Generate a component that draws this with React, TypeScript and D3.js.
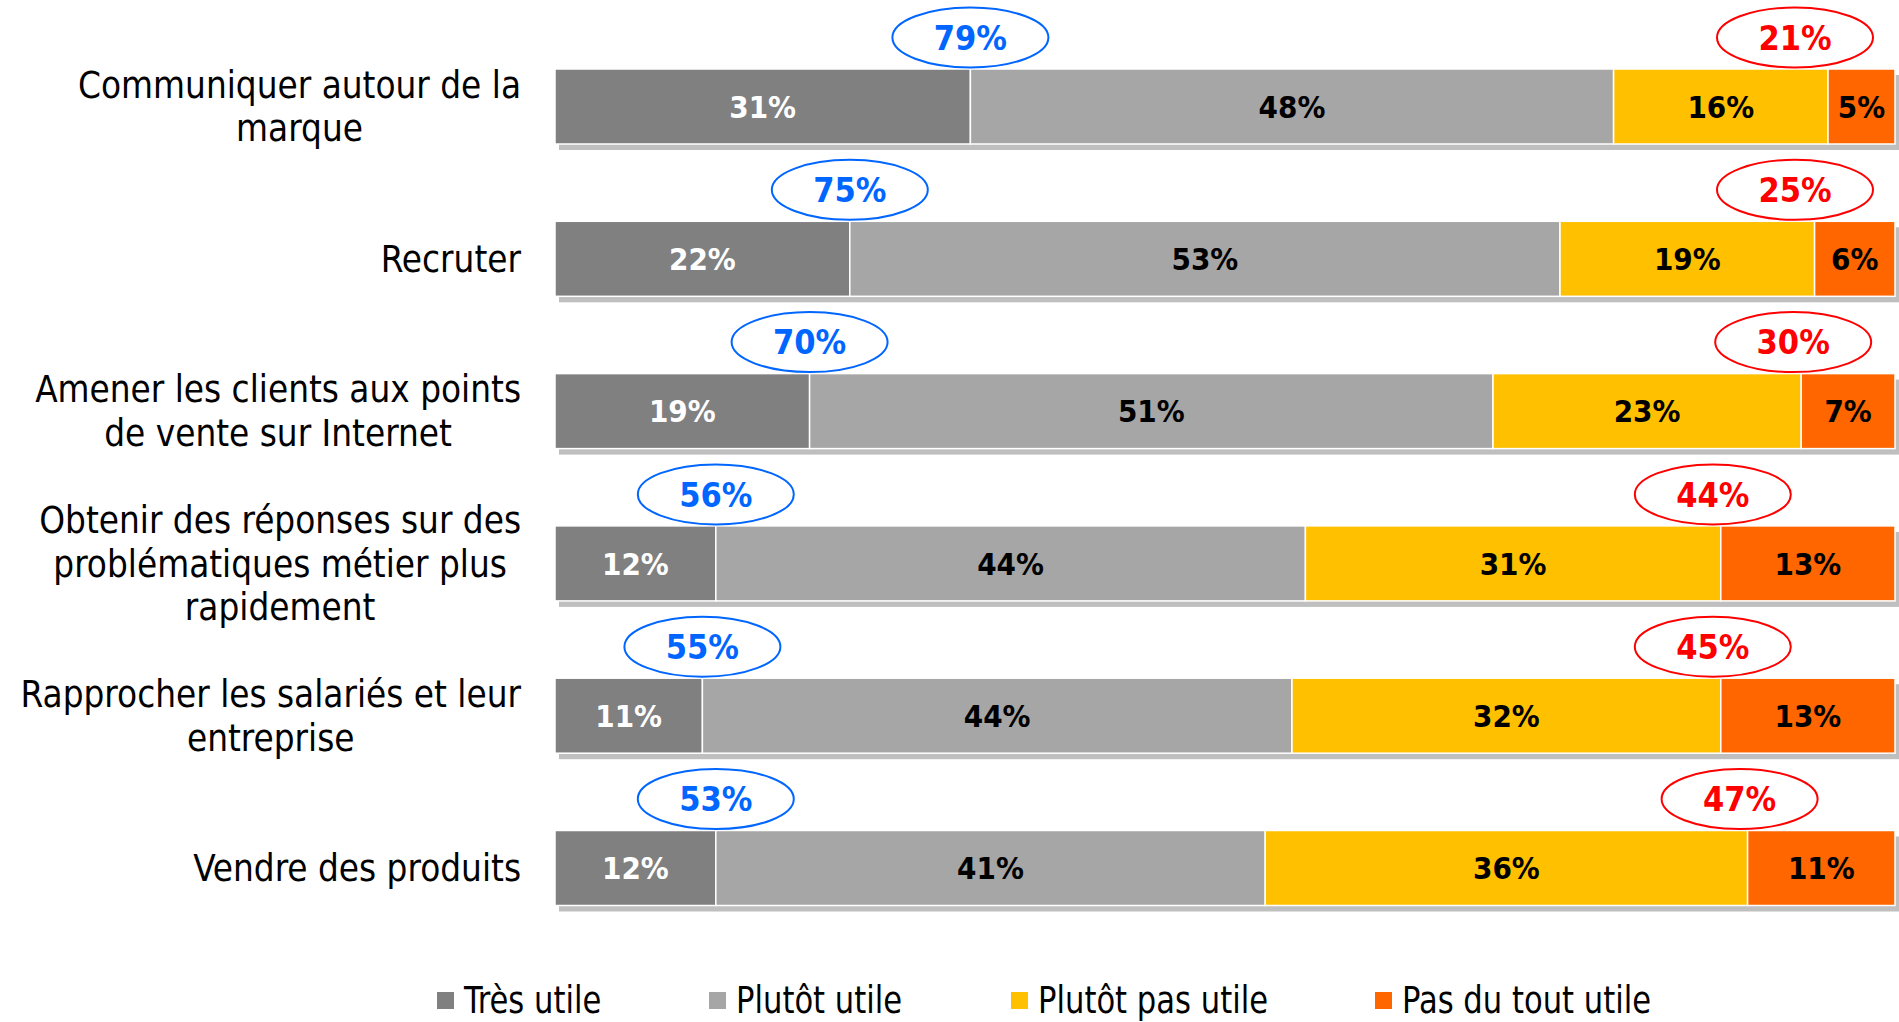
import React, { useEffect, useRef } from 'react';
import * as d3 from 'd3';

// libellés (une ligne par élément)
const categories = [
  ['Communiquer autour de la', 'marque'],
  ['Recruter'],
  ['Amener les clients aux points', 'de vente sur Internet'],
  ['Obtenir des réponses sur des', 'problématiques métier plus', 'rapidement'],
  ['Rapprocher les salariés et leur', 'entreprise'],
  ['Vendre des produits'],
];

const seriesNames = ['Très utile', 'Plutôt utile', 'Plutôt pas utile', 'Pas du tout utile'];
const seriesColors = ['#808080', '#A6A6A6', '#FFC000', '#FF6600'];
const labelColors = ['#FFFFFF', '#000000', '#000000', '#000000'];

const tresUtile = [31, 22, 19, 12, 11, 12];
const plutotUtile = [48, 53, 51, 44, 44, 41];
const plutotPasUtile = [16, 19, 23, 31, 32, 36];
const pasDuToutUtile = [5, 6, 7, 13, 13, 11];

const totalUtile = [79, 75, 70, 56, 55, 53];
const totalPasUtile = [21, 25, 30, 44, 45, 47];

const FONT = '"DejaVu Sans Condensed", "DejaVu Sans", sans-serif';

export default function App() {
  const ref = useRef<SVGSVGElement>(null);

  useEffect(() => {
    document.body.style.margin = '0';
    const svg = d3.select(ref.current);
    svg.selectAll('*').remove();

    const series = [tresUtile, plutotUtile, plutotPasUtile, pasDuToutUtile];
    const rows = categories.map((c, i) => ({ i, values: series.map(s => s[i]) }));

    const x = d3.scaleLinear().domain([0, 100]).range([555, 1895]);
    const y = d3.scaleBand<number>()
      .domain(rows.map(r => r.i))
      .range([69, 905.5])
      .paddingInner(0.5075)
      .paddingOuter(0);
    const bh = y.bandwidth();

    // ombres
    svg.append('g').selectAll('rect')
      .data(rows)
      .enter()
      .append('rect')
      .attr('x', x(0) + 4)
      .attr('y', d => y(d.i)! + 6)
      .attr('width', x(100) - x(0))
      .attr('height', bh)
      .attr('fill', '#BFBFBF');

    // segments
    const stack = d3.stack<any>().keys(['0', '1', '2', '3'])(rows.map(r => ({ ...r.values })) as any);

    stack.forEach((layer, k) => {
      const g = svg.append('g');
      g.selectAll('rect')
        .data(layer)
        .enter()
        .append('rect')
        .attr('x', d => x(d[0]))
        .attr('y', (d, i) => y(i)!)
        .attr('width', d => x(d[1]) - x(d[0]))
        .attr('height', bh)
        .attr('fill', seriesColors[k])
        .attr('stroke', '#FFFFFF')
        .attr('stroke-width', 1.5);

      g.selectAll('text')
        .data(layer)
        .enter()
        .append('text')
        .attr('x', d => (x(d[0]) + x(d[1])) / 2)
        .attr('y', (d, i) => y(i)! + bh / 2)
        .attr('dy', '0.36em')
        .attr('text-anchor', 'middle')
        .attr('font-family', FONT)
        .attr('font-weight', 'bold')
        .attr('font-size', 31)
        .attr('fill', labelColors[k])
        .text(d => `${d[1] - d[0]}%`);
    });

    // bulles (la rouge ne déborde pas à droite)
    const bubbles = [
      { vals: totalUtile, pos: (i: number) => x(stack[0][i][1]), color: '#0066FF' },
      { vals: totalPasUtile, pos: (i: number) => Math.min(x(stack[3][i][0]) - 8, 1795), color: '#FF0000' },
    ];
    bubbles.forEach(b => {
      const g = svg.append('g');
      const sel = g.selectAll('g').data(b.vals).enter().append('g')
        .attr('transform', (d, i) => `translate(${b.pos(i)},${y(i)! - 31.5})`);
      sel.append('ellipse')
        .attr('rx', 78)
        .attr('ry', 30)
        .attr('fill', '#FFFFFF')
        .attr('stroke', b.color)
        .attr('stroke-width', 2);
      sel.append('text')
        .attr('text-anchor', 'middle')
        .attr('dy', '0.36em')
        .attr('font-family', FONT)
        .attr('font-weight', 'bold')
        .attr('font-size', 34)
        .attr('fill', b.color)
        .text(d => `${d}%`);
    });

    // libellés des catégories
    const labelRight = 521;
    const lineH = 43.6;
    rows.forEach(r => {
      const lines = categories[r.i];
      const g = svg.append('g');
      const texts = g.selectAll('text').data(lines).enter().append('text')
        .attr('font-family', FONT)
        .attr('font-size', 36.5)
        .attr('fill', '#000')
        .attr('text-anchor', 'middle')
        .attr('y', (d, j) => y(r.i)! + bh / 2 + (j - (lines.length - 1) / 2) * lineH)
        .attr('dy', '0.36em')
        .text(d => d);
      let maxW = 0;
      texts.each(function () {
        maxW = Math.max(maxW, (this as SVGTextElement).getComputedTextLength());
      });
      texts.attr('x', labelRight - maxW / 2);
    });

    // légende
    const legendX = [437, 709, 1011, 1375];
    const lg = svg.append('g').selectAll('g')
      .data(seriesNames)
      .enter()
      .append('g')
      .attr('transform', (d, i) => `translate(${legendX[i]},0)`);
    lg.append('rect')
      .attr('x', 0)
      .attr('y', 992)
      .attr('width', 17)
      .attr('height', 17)
      .attr('fill', (d, i) => seriesColors[i]);
    lg.append('text')
      .attr('transform', 'translate(27,1013) scale(0.92,1)')
      .attr('font-family', FONT)
      .attr('font-size', 37)
      .attr('fill', '#000')
      .text(d => d);
  }, []);

  return <svg ref={ref} width={1899} height={1022} style={{ display: 'block' }} />;
}
